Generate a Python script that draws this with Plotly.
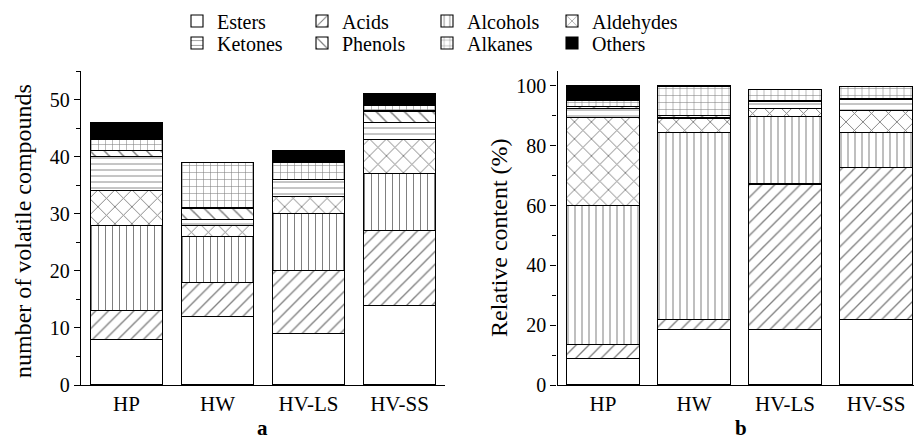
import plotly.graph_objects as go

categories = ["HP", "HW", "HV-LS", "HV-SS"]
series_names = ["Esters", "Acids", "Alcohols", "Aldehydes", "Ketones", "Phenols", "Alkanes", "Others"]

# panel a: number of volatile compounds
esters = [8, 12, 9, 14]
acids = [5, 6, 11, 13]
alcohols = [15, 8, 10, 10]
aldehydes = [6, 2, 3, 6]
ketones = [6, 1, 3, 3]
phenols = [1, 2, 0, 2]
alkanes = [2, 8, 3, 1]
others = [3, 0, 2, 2]

# panel b: relative content (%)
esters_pct = [9, 18.5, 18.5, 22]
acids_pct = [4.5, 3.5, 48.7, 50.6]
alcohols_pct = [46.5, 62.5, 22.5, 11.8]
aldehydes_pct = [29.5, 4.5, 2.8, 7.4]
ketones_pct = [3, 0.5, 2.2, 3.6]
phenols_pct = [0.5, 0.5, 0.3, 0.5]
alkanes_pct = [2, 10, 3.9, 4]
others_pct = [5, 0, 0, 0]

counts = [esters, acids, alcohols, aldehydes, ketones, phenols, alkanes, others]
pcts = [esters_pct, acids_pct, alcohols_pct, aldehydes_pct, ketones_pct, phenols_pct, alkanes_pct, others_pct]

patterns = ["", "/", "|", "x", "-", "\\", "+", ""]
pat_sizes = [8, 9, 7, 12, 6, 10, 7, 8]
fills = ["white", "white", "white", "white", "white", "white", "white", "black"]

FONT = "Liberation Serif"
W, H = 914, 434  # page body has an 8px margin in the viewer

fig = go.Figure()
for i, name in enumerate(series_names):
    legend_id = "legend" if i < 4 else "legend2"
    pat = dict(shape=patterns[i], fgcolor="black", bgcolor=fills[i], size=pat_sizes[i], solidity=0.15)
    fig.add_trace(go.Bar(
        x=categories, y=counts[i], name=name, xaxis="x", yaxis="y",
        marker=dict(color=fills[i], line=dict(color="black", width=1.1), pattern=pat),
        legend=legend_id, showlegend=True,
    ))
    fig.add_trace(go.Bar(
        x=categories, y=pcts[i], name=name, xaxis="x2", yaxis="y2",
        marker=dict(color=fills[i], line=dict(color="black", width=1.1), pattern=pat),
        legend=legend_id, showlegend=False,
    ))

axis_common = dict(showline=True, linecolor="black", linewidth=1.3, showgrid=False, zeroline=False,
                   automargin=False)
xtick_font = dict(family=FONT, size=21, color="black")
ytick_font = dict(family=FONT, size=20, color="black")

legend_common = dict(orientation="h", xanchor="left", yanchor="middle", traceorder="normal",
                     entrywidth=80, entrywidthmode="pixels", font=dict(family=FONT, size=20, color="black"),
                     bgcolor="rgba(0,0,0,0)", tracegroupgap=0, itemwidth=30)

ydom = [(H - 377) / H, (H - 63) / H]

fig.update_layout(
    width=W, height=H,
    margin=dict(l=0, r=0, t=0, b=0, autoexpand=False),
    paper_bgcolor="white", plot_bgcolor="white",
    barmode="stack", bargap=0.2,
    font=dict(family=FONT, size=20, color="black"),
    xaxis=dict(domain=[73 / W, 437 / W], anchor="y", ticks="", tickfont=xtick_font, **axis_common),
    yaxis=dict(domain=ydom, anchor="x", range=[0, 55], dtick=10, ticks="outside", ticklen=6,
               tickwidth=1.2, tickcolor="black", tickfont=ytick_font,
               minor=dict(dtick=5, ticks="outside", ticklen=4, tickcolor="black", tickwidth=1.2),
               **axis_common),
    xaxis2=dict(domain=[549.5 / W, 913.5 / W], anchor="y2", ticks="", tickfont=xtick_font, **axis_common),
    yaxis2=dict(domain=ydom, anchor="x2", range=[0, 105], dtick=20, ticks="outside", ticklen=6,
                tickwidth=1.2, tickcolor="black", tickfont=ytick_font,
                minor=dict(dtick=10, ticks="outside", ticklen=4, tickcolor="black", tickwidth=1.2),
                **axis_common),
    legend=dict(x=169 / W, y=1 - 13 / H, **legend_common),
    legend2=dict(x=169 / W, y=1 - 35 / H, **legend_common),
    annotations=[
        dict(text="number of volatile compounds", x=15 / W, y=(H - 223) / H, xref="paper", yref="paper",
             textangle=-90, showarrow=False, xanchor="center", yanchor="middle",
             font=dict(family=FONT, size=24, color="black")),
        dict(text="Relative content (%)", x=491 / W, y=(H - 230) / H, xref="paper", yref="paper",
             textangle=-90, showarrow=False, xanchor="center", yanchor="middle",
             font=dict(family=FONT, size=24, color="black")),
        dict(text="<b>a</b>", x=254 / W, y=14 / H, xref="paper", yref="paper", showarrow=False,
             xanchor="center", yanchor="middle", font=dict(family=FONT, size=21, color="black")),
        dict(text="<b>b</b>", x=733 / W, y=14 / H, xref="paper", yref="paper", showarrow=False,
             xanchor="center", yanchor="middle", font=dict(family=FONT, size=21, color="black")),
    ],
)

fig.write_html("out.html")
